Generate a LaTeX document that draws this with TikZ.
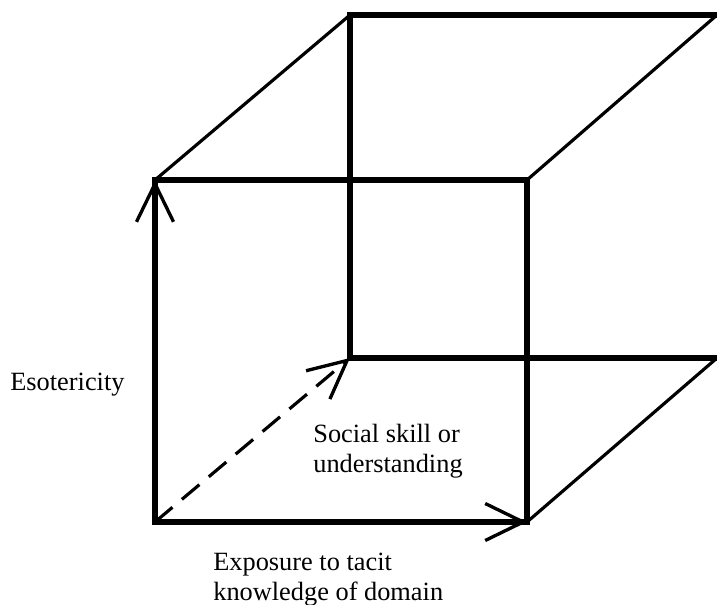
\documentclass[tikz,border=0pt]{standalone}
\usepackage{fontspec}
\setmainfont{Liberation Serif}
\usetikzlibrary{arrows.meta,positioning}

\begin{document}
\begin{tikzpicture}[
    x=0.02cm, y=-0.02cm,
    font=\fontsize{15}{17}\selectfont,
    edge/.style={line width=3.3pt, line cap=rect, line join=miter},
    slant/.style={line width=1.8pt},
    barb/.style={-{Straight Barb[length=0.76cm, width=0.74cm, line width=1.9pt]}},
    label/.style={align=left, inner sep=0pt, anchor=north west}
]
\useasboundingbox (0,0) rectangle (717,605);
% front face
\coordinate (ftl) at (155,180);
\coordinate (ftr) at (527,180);
\coordinate (fbl) at (155,522);
\coordinate (fbr) at (527,522);
% back face
\coordinate (btl) at (350,15);
\coordinate (btr) at (717,15);
\coordinate (bbl) at (350,358);
\coordinate (bbr) at (717,358);
% slanted edges
\draw[slant] (ftl) -- (btl);
\draw[slant] (ftr) -- (btr);
\draw[slant] (fbr) -- (bbr);
\draw[slant, dash pattern=on 13pt off 7pt, barb] (fbl) -- (bbl);
% back face edges
\draw[edge] (btr) -- (btl) -- (bbl) -- (bbr);
% front face edges
\draw[edge] (ftl) -- (ftr) -- (fbr);
\draw[edge] (fbr) -- (fbl) -- (ftl);
\draw[slant, barb] (fbl) -- (ftl);
\draw[slant, barb] (fbl) -- (fbr);
% labels
\node[anchor=west, inner sep=0pt] (esot) at (10,385) {Esotericity};
\node[label] (social) at (313,424) {Social skill or\\understanding};
\node[label] (expo) at (213,553) {Exposure to tacit\\knowledge of domain};
\end{tikzpicture}
\end{document}
